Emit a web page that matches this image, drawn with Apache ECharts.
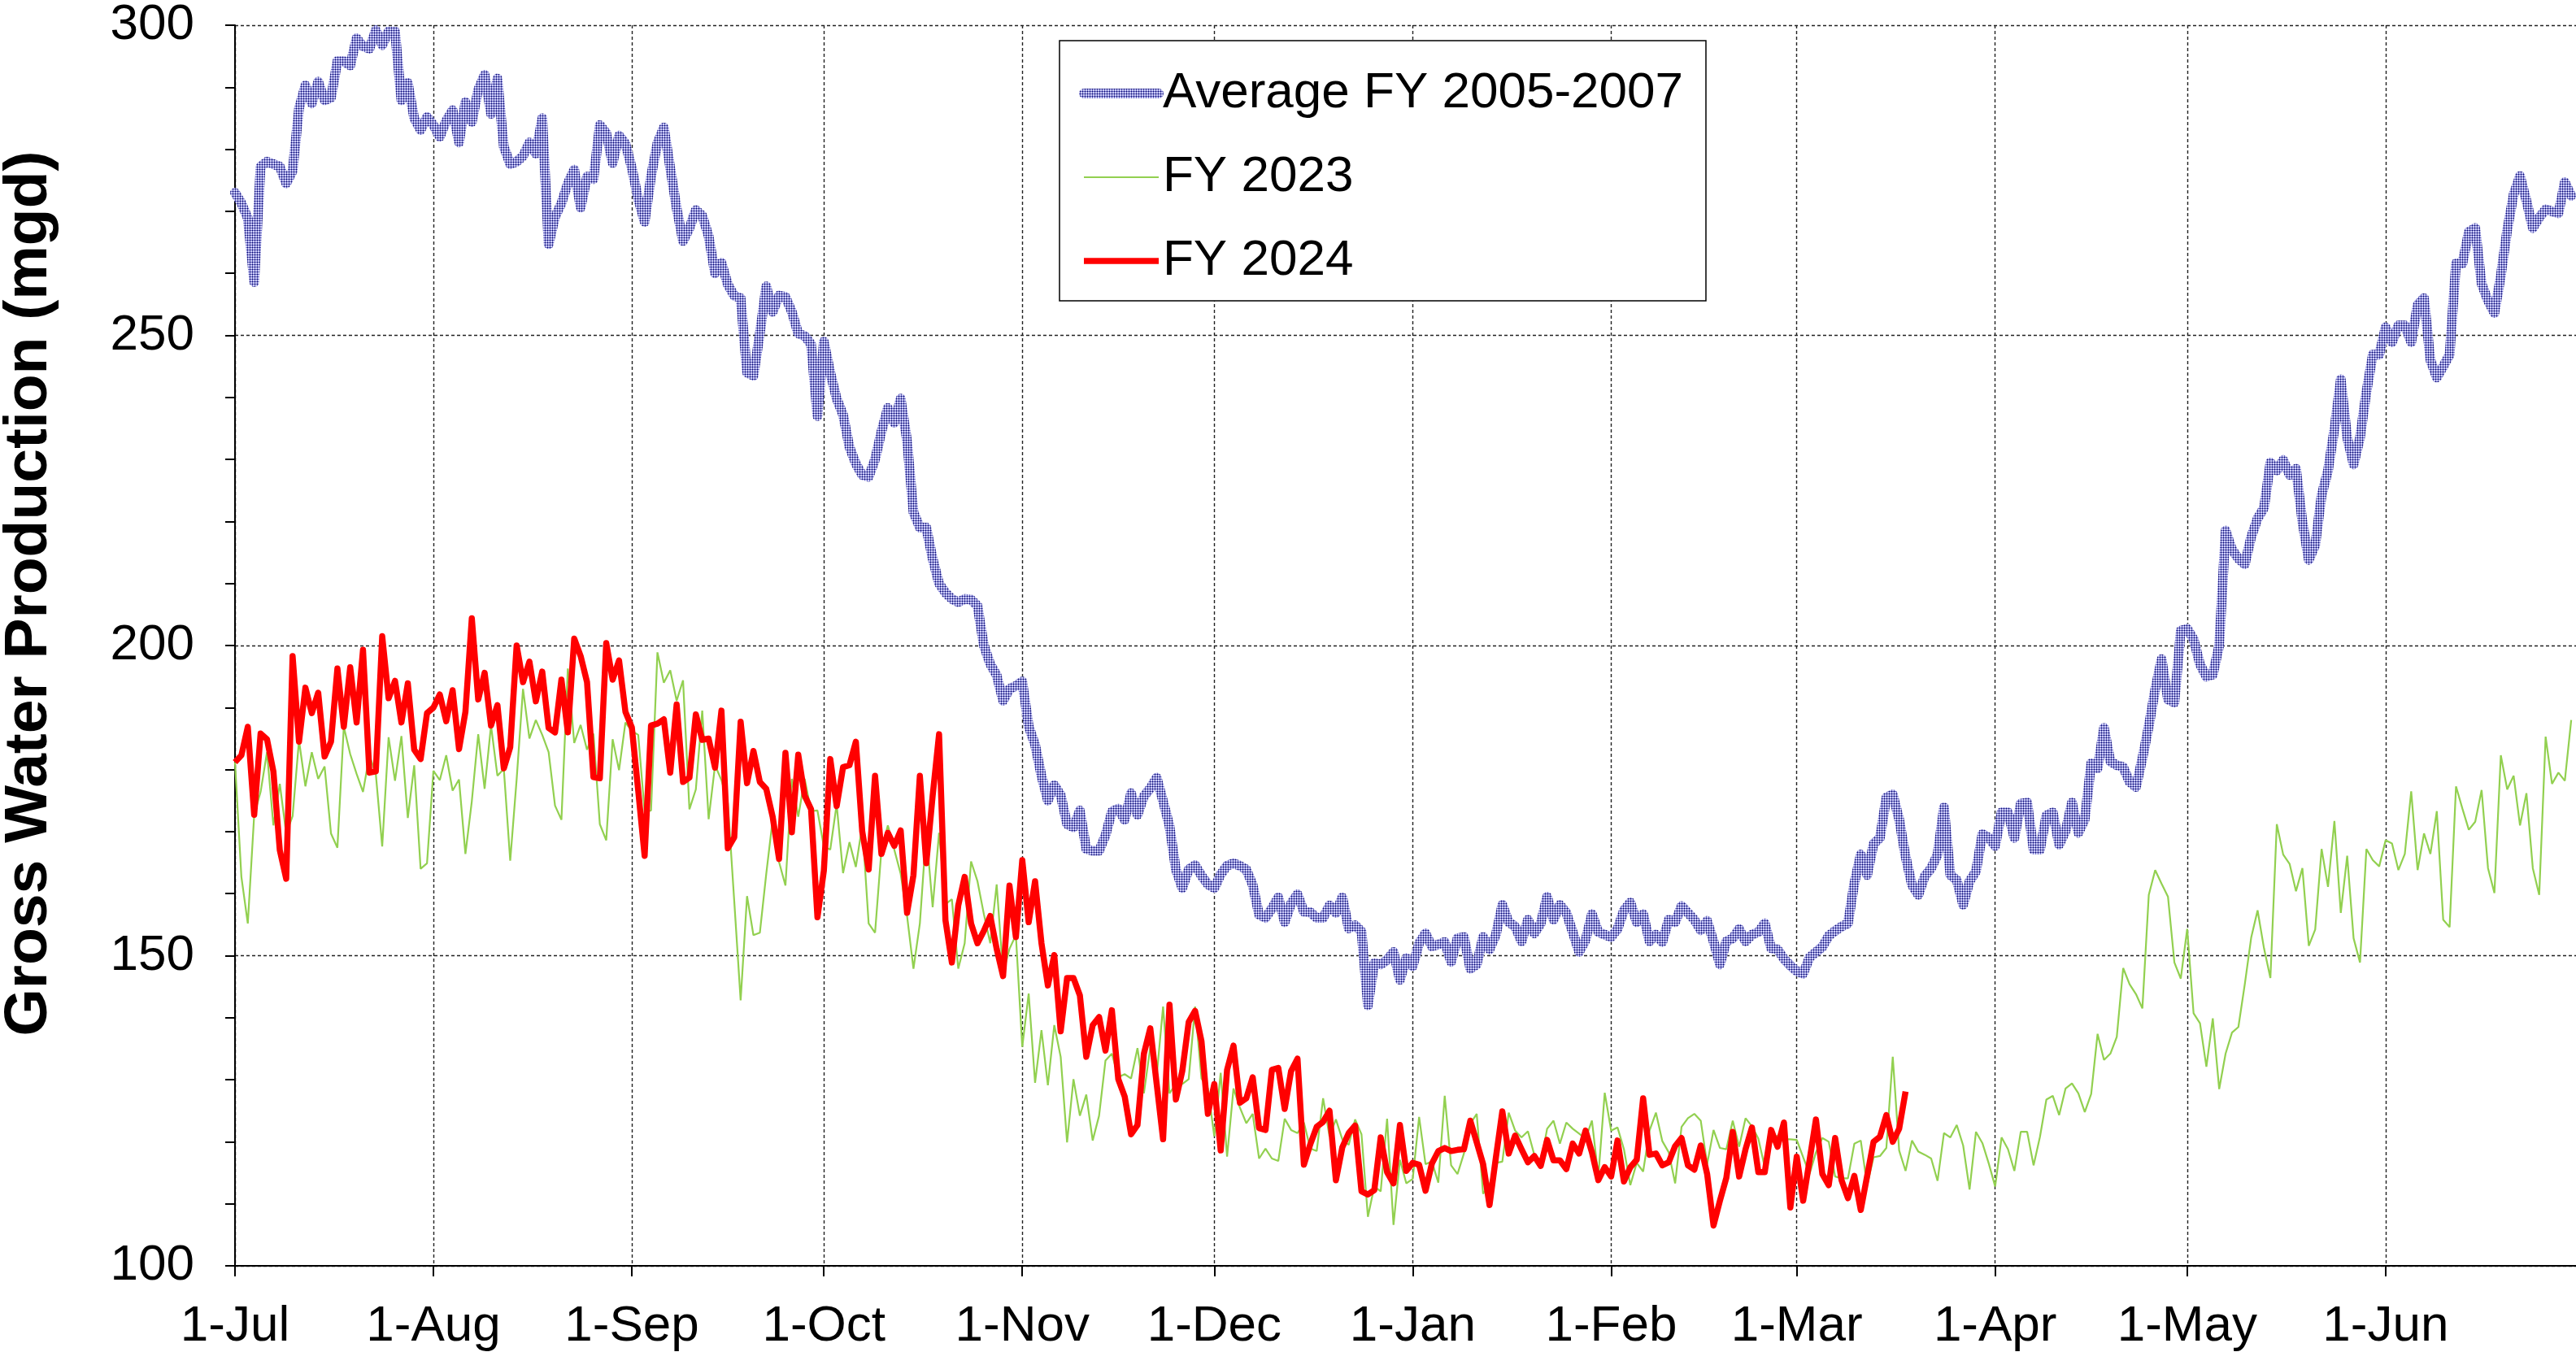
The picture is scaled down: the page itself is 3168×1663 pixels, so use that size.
<!DOCTYPE html>
<html><head><meta charset="utf-8">
<script src="https://cdn.jsdelivr.net/npm/echarts@6/dist/echarts.min.js"></script>
<style>html,body{margin:0;padding:0;background:#fff}#c{width:3168px;height:1663px}</style>
</head><body><div id="c"></div><script>
const monthLabels = ['1-Jul','1-Aug','1-Sep','1-Oct','1-Nov','1-Dec','1-Jan','1-Feb','1-Mar','1-Apr','1-May','1-Jun'];
const monthStartDays = [0,31,62,92,123,153,184,215,244,275,305,336];
const yTicks = {min:100, max:300, step:50};

const avg0507 = [
273,271.3,268.9,258.6,277.2,278,277.6,277.2,274.5,276.5,
286.6,290.3,287.4,290.9,287.9,288.3,294.2,294.2,293.5,297.9,
296.6,296.2,299.2,296.8,299,299,287.9,290.7,285,283.1,
285.2,283.9,282,284.6,286.3,281.1,287.6,284.4,289.6,292,
285.7,291.4,280.4,277.6,278,278.9,281.1,279.3,285,264.7,
269.1,271.3,274.5,276.7,270.6,275.6,275.2,283.9,282.6,277.8,
282.2,280.9,277,272,268.3,275.6,281,283.5,277,270.5,
265.2,267.3,270.2,269.3,266,260,261.7,258.2,256.4,256,
244,243.5,250.3,257.9,253.8,256.4,256.2,253.8,250.3,249.9,
248.6,237,249,244,239.8,237.2,232,229.3,227.5,227.2,
230,234.5,238.3,235.9,239.8,233,221.5,219,219,214,
210,208.5,207.5,207,207.5,207.4,206.4,200,197,195.2,
191.1,193,193.5,194.2,187,184,179,175,177.5,175.9,
171.2,170.7,173.4,167.2,166.9,166.9,169.4,173.2,173.7,171.9,
176.2,172.7,175.7,177,178.7,174.9,170.9,163.9,160.9,163.9,
164.6,162.9,161.5,160.9,163.1,164.5,164.9,164.5,163.9,161.4,
156.6,156.1,157.6,159.4,155.4,158.4,159.9,157.1,157,156.1,
156.1,158.1,156.9,159.4,154.4,154.9,153.9,142,148.8,148.6,
149.3,150.6,146.1,149.6,148.3,152,153.6,151.5,151.8,152.2,
149,152.8,153,147.9,148.6,153,151,153.4,158.2,155.4,
154.7,152.3,155.8,153.6,155.2,159.5,155.8,158.2,156.9,153.8,
150.6,152.5,156.7,153.8,153.4,153,154.3,157.3,158.6,155.4,
156.7,152.3,153.4,152.2,155.8,155.4,158,156.9,155.8,154.1,
155.6,152.3,148.6,152.3,152.8,154.3,152.3,153.4,153.8,155.2,
151.2,151,149.5,148.4,147.5,147.1,149.7,150.6,151.4,153.2,
154,154.7,155.2,161.7,166.3,163,168,169,175.5,176,
172,166,161.4,159.8,162.8,164.1,166.3,173.9,163,162.2,
158.2,162,163.6,169.6,169,167.7,173.1,173.1,169,174.5,
174.7,167.1,167.1,172.6,173.1,167.9,170.1,174.7,169.8,172,
181,180.2,186.7,181.3,180.7,180.4,178,177.2,181.8,187,
192.9,197.8,191.3,190.8,202.4,202.7,201,197,195,195.3,
200,218.5,215.5,214,213.1,217.5,220.5,222.2,229.5,228.2,
229.9,227.5,228.5,220,213.8,216.2,224.2,228.2,234.9,242.9,
233.5,229.2,233.5,240.9,246.9,246.9,251.3,248.9,251.6,251.6,
248.9,254.9,256,246,243.2,245,246.9,261.6,261.6,266.7,
267.3,258.3,255.6,253.6,259.6,267,272.7,275.7,271.7,267.3,
269,270.3,270,269.7,274.7,272.5];

const fy2023 = [
181.2,162.7,155.2,172.7,176.4,182.8,171,177.7,169.7,172.5,
184.7,177.3,182.8,178.5,180.5,169.7,167.4,186.9,182.5,179.3,
176.4,182.3,179.3,167.6,185.2,178.2,185.4,172.2,180.7,164,
164.9,179.8,178.3,182.3,176.6,178.4,166.4,174.9,185.7,176.9,
187.1,179,180.1,165.3,178.4,193,185,188,185.6,182.8,
174.2,171.9,196.3,184.3,187.2,183.2,185.8,171.2,168.6,184.9,
179.9,187.6,186.2,185.6,173.2,173.4,198.9,194,196,191.1,
194.4,173.6,176.8,189.5,172,180.7,178.3,174.6,158.8,142.8,
159.6,153.3,153.7,163.2,171.9,165.1,161.3,178.5,172.4,178.5,
173.3,173.4,167.6,167.1,174.4,163.3,168.3,164.3,171,155.2,
153.7,167.1,171,167.1,163.2,156.4,147.9,155.2,170,157.8,
169.8,158.3,159.1,147.9,152,165.2,162,156.7,152,161.5,
147.2,151.1,153.3,135.3,143.9,129.5,138,129.1,138.8,133.7,
119.9,130.1,124.2,127.6,120.2,124.2,133.1,134.2,130.4,130.9,
130.2,135.1,127.8,135.2,130.6,141.8,127.8,129.3,129.3,130.1,
141.8,130.2,128.6,120.9,131.1,117.6,128.6,125.5,123,124.5,
117.3,118.9,117.3,116.9,123.7,121.9,121.4,123.1,118.9,118.5,
127,120.9,123.6,120.4,119.5,123.6,121.2,107.9,112.8,112,
123.7,106.6,117.1,113.3,114,124,116.4,116.8,113.4,127.4,
116.2,114.8,118.1,122.9,124.5,111.6,113.1,116.6,116.8,124.7,
121.8,120.7,121.7,117.9,116.6,122.1,123.4,119.7,123.1,122.1,
121.3,120.5,123.4,114.4,127.9,121.8,122.3,118.8,113,116.6,
115.2,121.8,124.7,120.1,118.3,113.3,122.4,123.8,124.5,123.4,
116.4,121.9,119,118.8,123.4,119.2,123.8,122.5,120.5,115.9,
119.9,121,120.4,120.4,120.3,117.5,114.8,118.3,120.6,120,
114.4,114.1,114.1,119.7,120.2,113,117.5,117.7,119,133.7,
118.6,115.3,120.2,118.4,117.9,117.3,113.7,121.4,120.7,122.7,
119.4,112.3,121.6,119.8,116.5,112.8,120.7,118.8,115.3,121.6,
121.6,116.2,120.8,126.8,127.4,124.3,128.6,129.4,127.8,124.8,
127.7,137.4,133.2,134.2,136.9,148,145.4,143.8,141.5,159.8,
163.8,161.6,159.5,148.9,146.3,154.3,140.7,139.1,132.1,139.9,
128.5,134.2,137.6,138.5,145.4,152.9,157.3,151.2,146.4,171.2,
166.3,164.8,160.4,164.1,151.6,154.2,167.2,161.1,171.7,156.9,
166.1,152.8,148.9,167.2,165.4,164.4,168.6,168.1,163.8,166.4,
176.5,163.8,169.7,166.4,173.3,155.8,154.6,177.3,173.7,170.3,
171.6,176.7,164.1,160.1,182.3,176.8,179,171,176.2,164.1,
159.8,185.3,177.7,179.5,178.2,188];

const fy2024 = [
181.2,182.3,186.9,172.7,185.8,184.9,179.7,167,162.4,198.3,
184.5,193.2,189.1,192.4,182.1,184.5,196.3,186.9,196.5,187.6,
199.3,179.5,179.7,201.5,191.5,194.3,187.6,193.9,183.2,181.7,
189.1,190,192.1,187.8,192.8,183.3,189.3,204.4,191.3,195.6,
187.1,190.4,180.2,183.6,200,194.1,197.4,191,195.8,186.7,
186,194.5,186,201.1,198.3,194.1,178.8,178.6,200.4,194.5,
197.6,189.3,186.8,176.6,166.1,187.1,187.4,188.1,179.5,190.5,
178,178.7,188.9,184.8,185,180.3,189.5,167.3,169.1,187.7,
177.8,183,178,176.9,172.4,165.6,182.7,169.9,182.4,175.8,
173.6,156.2,163.7,181.7,174.1,180.4,180.7,184.5,170,163.9,
179,166.4,169.8,167.7,170.2,156.9,163,179,164.9,175.8,
185.7,155.7,148.9,158.1,162.7,155.2,152,154,156.4,151.1,
146.7,161.3,153,165.4,155.4,162,152,145.2,150.1,137.8,
146.4,146.4,143.6,133.7,138.8,140.1,134.7,141.2,130.1,127.3,
121.2,122.7,134.2,138.3,129.3,120.4,142.1,126.8,131.4,139.3,
141.1,136.2,124.5,129.3,118.6,131.6,135.5,126.3,127,130.4,
122.2,121.9,131.6,131.9,125.3,131.4,133.4,116.3,119.6,122.4,
123.2,125,113.8,119.1,121.4,122.6,112,111.5,112.2,120.7,
115.1,113.3,122.7,115.3,116.6,116.3,112.1,116.5,118.5,119,
118.5,118.7,118.8,123.4,119.9,116.4,109.8,117.5,124.9,118.1,
121,118.8,116.7,117.7,116.1,120.3,117,117,115.6,119.7,
118.1,121.8,118.3,113.8,115.9,114.4,120.2,113.6,115.9,117.1,
127,117.9,118.1,116.2,116.7,119.3,120.6,116.2,115.5,119.4,
114.8,106.5,110.5,114.2,121.6,114.4,118.8,122.3,115.1,115.1,
121.9,119.2,123.1,109.4,117.6,110.5,117,123.6,114.8,113,
120.6,113.8,110.9,114.5,109,114.5,120,120.8,124.3,120,
122.1,128.1];

// day-index categories: 1 Jul .. 1 Jul (367 slots)
const N = 367;
const cats = Array.from({length: N}, (_, i) => String(i));
const tickSet = new Set(monthStartDays);
const labelAt = {};
monthStartDays.forEach((d, k) => { labelAt[d] = monthLabels[k]; });
const isTick = (i) => tickSet.has(i);

// dotted texture for the average line
const pat = document.createElement('canvas');
pat.width = 3; pat.height = 3;
const pc = pat.getContext('2d');
pc.fillStyle = '#d0d0f2'; pc.fillRect(0, 0, 3, 3);
pc.fillStyle = '#6464c8'; pc.fillRect(1, 0, 1, 3); pc.fillRect(0, 1, 3, 1);
pc.fillStyle = '#12125a'; pc.fillRect(1, 1, 1, 1);
const patColor = {image: pat, repeat: 'repeat'};

const FONT = '"Liberation Sans", Arial, sans-serif';
const gridLine = {color: '#222', type: [4, 3], width: 1.4};

const chart = echarts.init(document.getElementById('c'), null, {renderer: 'canvas'});
chart.setOption({
  animation: false,
  backgroundColor: '#fff',
  textStyle: {fontFamily: FONT, color: '#000'},
  grid: {left: 289, top: 31, right: -2, bottom: 106, containLabel: false, outerBoundsMode: 'none'},
  legend: {
    show: true, orient: 'vertical', left: 1303, top: 50,
    selectedMode: false,
    backgroundColor: '#fff', borderColor: '#000', borderWidth: 1.5,
    padding: [34, 28, 18, 24], itemGap: 41, itemWidth: 92, itemHeight: 20,
    textStyle: {fontSize: 62, color: '#000', fontFamily: FONT},
    data: [
      {name: 'Average FY 2005-2007', itemStyle: {opacity: 0}, lineStyle: {width: 12, color: patColor}},
      {name: 'FY 2023', itemStyle: {opacity: 0}, lineStyle: {width: 2.2, color: '#92d050'}},
      {name: 'FY 2024', itemStyle: {opacity: 0}, lineStyle: {width: 7.5, color: '#ff0000'}}
    ]
  },
  xAxis: {
    type: 'category', data: cats, boundaryGap: false,
    axisLine: {show: true, onZero: false, lineStyle: {color: '#000', width: 2}},
    axisTick: {show: true, interval: (i) => isTick(i), length: 13, lineStyle: {color: '#000', width: 2}},
    axisLabel: {show: true, interval: (i) => isTick(i) && i < 366, formatter: (v, i) => labelAt[i] || '',
                fontSize: 62, color: '#000', margin: 44, fontFamily: FONT},
    splitLine: {show: true, interval: (i) => isTick(i), lineStyle: gridLine}
  },
  yAxis: {
    type: 'value', min: yTicks.min, max: yTicks.max, interval: yTicks.step,
    axisLine: {show: true, lineStyle: {color: '#000', width: 2}},
    axisTick: {show: true, length: 12, lineStyle: {color: '#000', width: 2}},
    minorTick: {show: true, splitNumber: 5, length: 12, lineStyle: {color: '#000', width: 2}},
    axisLabel: {fontSize: 62, color: '#000', margin: 50, fontFamily: FONT},
    splitLine: {show: true, lineStyle: gridLine}
  },
  graphic: [{
    type: 'text', x: 36, y: 730, rotation: Math.PI / 2,
    style: {text: 'Gross Water Production (mgd)', font: 'bold 75px ' + FONT, fill: '#000',
            align: 'center', verticalAlign: 'middle'}
  }],
  series: [
    {name: 'Average FY 2005-2007', type: 'line', data: avg0507, symbol: 'none', showSymbol: false,
     itemStyle: {color: '#6464c8'},
     lineStyle: {width: 12, color: patColor, join: 'round', cap: 'round'}, z: 2},
    {name: 'FY 2023', type: 'line', data: fy2023, symbol: 'none', showSymbol: false,
     itemStyle: {color: '#92d050'}, lineStyle: {width: 2.2, color: '#92d050'}, z: 3},
    {name: 'FY 2024', type: 'line', data: fy2024, symbol: 'none', showSymbol: false,
     itemStyle: {color: '#ff0000'}, lineStyle: {width: 7.5, color: '#ff0000', join: 'round'}, z: 4}
  ]
});
</script></body></html>
